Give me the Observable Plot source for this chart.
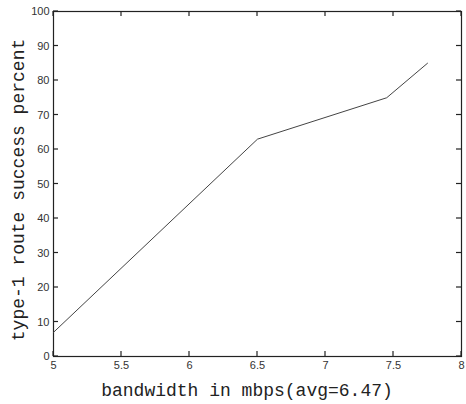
<!DOCTYPE html>
<html><head><meta charset="utf-8">
<script src="https://cdn.jsdelivr.net/npm/d3@7"></script>
<script src="https://cdn.jsdelivr.net/npm/@observablehq/plot@0.6"></script>
<style>
body{margin:0;background:#fff;}
svg{display:block;}
</style>
</head><body><div id="chart"></div>
<script>
const bandwidth = [5, 6.5, 7.45, 7.75];
const success = [7, 63, 75, 85];
const xTicks = [5, 5.5, 6, 6.5, 7, 7.5, 8];
const yTicks = [0, 10, 20, 30, 40, 50, 60, 70, 80, 90, 100];
const xLabel = "bandwidth in mbps(avg=6.47)";
const yLabel = "type-1 route success percent";

const data = bandwidth.map((b, i) => ({b, s: success[i]}));
const W = 466, H = 404, ML = 53, MR = 5, MT = 11, MB = 48;
const T = 5;
const tickFont = {fontFamily: "Liberation Sans, Arial, sans-serif", fontSize: 11, fill: "#333"};

const chart = Plot.plot({
  width: W, height: H,
  marginLeft: ML, marginRight: MR, marginTop: MT, marginBottom: MB,
  x: {domain: [5, 8]},
  y: {domain: [0, 100]},
  style: {background: "#fff", color: "#222"},
  marks: [
    Plot.frame({stroke: "#222", strokeWidth: 1.2}),
    Plot.axisX(xTicks, {anchor: "bottom", tickSize: 0, tickPadding: 5, label: null, tickFormat: d => String(d), ...tickFont}),
    Plot.axisY(yTicks, {anchor: "left", tickSize: 0, tickPadding: 4, label: null, tickFormat: d => String(d), ...tickFont}),
    Plot.line(data, {x: "b", y: "s", stroke: "#444", strokeWidth: 1})
  ]
});

const svg = d3.select(chart);
const sx = chart.scale("x"), sy = chart.scale("y");
const [yBottom, yTop] = sy.range;
const [xLeft, xRight] = sx.range;
const ticksG = svg.append("g").attr("stroke", "#222").attr("stroke-width", 1.2);
for (const v of xTicks) {
  const px = sx.apply(v);
  ticksG.append("line").attr("x1", px).attr("x2", px).attr("y1", yBottom).attr("y2", yBottom - T);
  ticksG.append("line").attr("x1", px).attr("x2", px).attr("y1", yTop).attr("y2", yTop + T);
}
for (const v of yTicks) {
  const py = sy.apply(v);
  ticksG.append("line").attr("x1", xLeft).attr("x2", xLeft + T).attr("y1", py).attr("y2", py);
  ticksG.append("line").attr("x1", xRight).attr("x2", xRight - T).attr("y1", py).attr("y2", py);
}

svg.append("text")
  .attr("x", 247).attr("y", 396)
  .attr("text-anchor", "middle")
  .attr("font-family", "Liberation Mono, Courier New, monospace")
  .attr("font-size", 18).attr("fill", "#222")
  .text(xLabel);
svg.append("text")
  .attr("transform", "translate(24,190) rotate(-90)")
  .attr("text-anchor", "middle")
  .attr("font-family", "Liberation Mono, Courier New, monospace")
  .attr("font-size", 18).attr("fill", "#222")
  .text(yLabel);
document.getElementById("chart").appendChild(chart);
</script>
</body></html>
